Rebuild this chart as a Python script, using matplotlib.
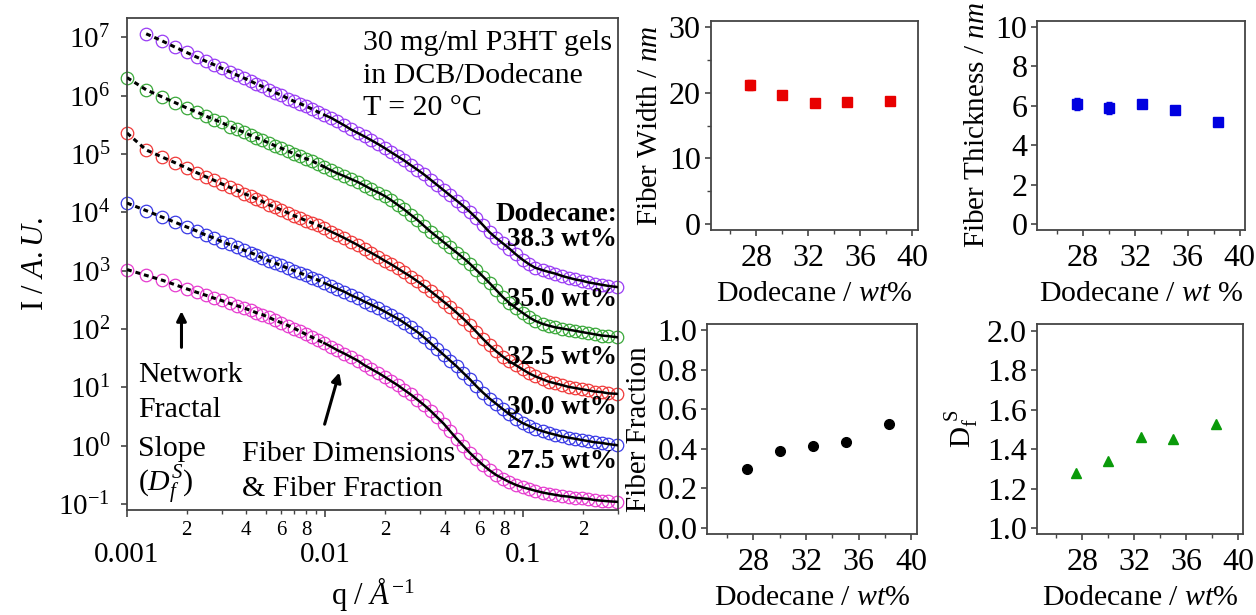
import numpy as np
import matplotlib
matplotlib.use("Agg")
import matplotlib.pyplot as plt
from matplotlib.ticker import FixedLocator, FuncFormatter, LogLocator, NullLocator, MultipleLocator

plt.rcParams['font.family'] = 'Liberation Serif'
plt.rcParams['mathtext.fontset'] = 'custom'
plt.rcParams['mathtext.rm'] = 'Liberation Serif'
plt.rcParams['mathtext.it'] = 'Liberation Serif:italic'
plt.rcParams['mathtext.bf'] = 'Liberation Serif:bold'

# ---- SANS curves (q in 1/A, intensity read as log10 I) ----
q = [0.00100, 0.00125, 0.00150, 0.00175, 0.00200, 0.00225, 0.00250, 0.00275, 0.00300, 0.00330,
     0.00360, 0.00390, 0.00420, 0.00450, 0.00480, 0.00520, 0.00560, 0.00600, 0.00650, 0.00700,
     0.00750, 0.00800, 0.00860, 0.00920, 0.00990, 0.0107, 0.0115, 0.0125, 0.0135, 0.0146,
     0.0158, 0.0170, 0.0185, 0.0200, 0.0215, 0.0232, 0.0250, 0.0270, 0.0292, 0.0315,
     0.0340, 0.0367, 0.0396, 0.0427, 0.0461, 0.0497, 0.0537, 0.0580, 0.0626, 0.0675,
     0.0729, 0.0787, 0.0849, 0.0917, 0.0990, 0.107, 0.115, 0.125, 0.134, 0.145,
     0.157, 0.169, 0.183, 0.197, 0.213, 0.230, 0.248, 0.268, 0.298]

logI_383 = [np.nan, 7.06, 6.94, 6.83, 6.74, 6.66, 6.59, 6.53, 6.47, 6.41, 6.35, 6.30, 6.25, 6.20,
            6.16, 6.10, 6.05, 6.01, 5.95, 5.90, 5.86, 5.82, 5.77, 5.72, 5.67,
            5.62, 5.56, 5.49, 5.42, 5.36, 5.30, 5.24, 5.17, 5.10, 5.03, 4.96, 4.89, 4.81, 4.73,
            4.65, 4.56, 4.47, 4.38, 4.29, 4.20, 4.11, 4.01, 3.90, 3.78, 3.66, 3.56, 3.47, 3.38,
            3.28, 3.19, 3.11, 3.05, 3.01, 2.98, 2.95, 2.91, 2.88, 2.85, 2.83, 2.80, 2.78, 2.76,
            2.74, 2.72]
logI_350 = [6.31, 6.10, 5.98, 5.88, 5.79, 5.72, 5.65, 5.59, 5.54, 5.47, 5.42, 5.37, 5.32, 5.28,
            5.24, 5.19, 5.14, 5.10, 5.05, 5.00, 4.96, 4.92, 4.88, 4.83, 4.78,
            4.72, 4.67, 4.62, 4.57, 4.52, 4.46, 4.40, 4.34, 4.28, 4.21, 4.13, 4.05, 3.96, 3.87,
            3.77, 3.67, 3.58, 3.49, 3.40, 3.31, 3.22, 3.12, 3.01, 2.90, 2.79, 2.67, 2.55, 2.45,
            2.36, 2.28, 2.20, 2.14, 2.09, 2.06, 2.03, 2.01, 1.99, 1.97, 1.95, 1.93, 1.91, 1.89,
            1.88, 1.86]
logI_325 = [5.36, 5.07, 4.95, 4.85, 4.76, 4.68, 4.61, 4.55, 4.49, 4.43, 4.38, 4.32, 4.28, 4.23,
            4.19, 4.13, 4.09, 4.04, 3.99, 3.94, 3.90, 3.86, 3.82, 3.78, 3.73,
            3.67, 3.62, 3.56, 3.50, 3.44, 3.37, 3.31, 3.24, 3.17, 3.11, 3.04, 2.97, 2.90, 2.82,
            2.74, 2.65, 2.56, 2.47, 2.38, 2.28, 2.18, 2.07, 1.95, 1.83, 1.72, 1.62, 1.53, 1.45,
            1.38, 1.31, 1.24, 1.19, 1.14, 1.10, 1.07, 1.04, 1.01, 0.99, 0.97, 0.95, 0.93, 0.92,
            0.90, 0.89]
logI_300 = [4.16, 4.03, 3.92, 3.83, 3.75, 3.68, 3.61, 3.56, 3.50, 3.45, 3.40, 3.35, 3.31, 3.27,
            3.22, 3.17, 3.13, 3.09, 3.04, 3.00, 2.96, 2.92, 2.88, 2.84, 2.79,
            2.74, 2.69, 2.64, 2.58, 2.53, 2.47, 2.42, 2.36, 2.30, 2.24, 2.18, 2.11, 2.03, 1.95,
            1.86, 1.76, 1.66, 1.56, 1.46, 1.36, 1.25, 1.14, 1.02, 0.91, 0.81, 0.72, 0.63, 0.54,
            0.46, 0.39, 0.34, 0.29, 0.25, 0.22, 0.19, 0.16, 0.14, 0.12, 0.10, 0.08, 0.06, 0.05,
            0.03, 0.01]
logI_275 = [3.02, 2.92, 2.84, 2.76, 2.69, 2.63, 2.58, 2.53, 2.49, 2.44, 2.40, 2.36, 2.32, 2.28,
            2.25, 2.20, 2.15, 2.11, 2.06, 2.01, 1.96, 1.91, 1.86, 1.81, 1.76,
            1.70, 1.64, 1.58, 1.52, 1.46, 1.38, 1.32, 1.25, 1.18, 1.11, 1.04, 0.96, 0.88, 0.79,
            0.70, 0.60, 0.49, 0.38, 0.25, 0.12, 0.00, -0.12, -0.23, -0.33, -0.42, -0.50, -0.56,
            -0.62, -0.67, -0.71, -0.74, -0.77, -0.80, -0.82, -0.84, -0.86, -0.87, -0.89, -0.90,
            -0.91, -0.93, -0.94, -0.95, -0.96]

series_labels = ['38.3 wt%', '35.0 wt%', '32.5 wt%', '30.0 wt%', '27.5 wt%']
series_colors = ['#9a3cf5', '#3aa83a', '#f03a3a', '#3a3ae6', '#e63ccf']
n_fractal = 25  # points covered by the dashed fractal fit

# ---- fit results vs dodecane content ----
dodecane = [27.5, 30.0, 32.5, 35.0, 38.3]
width = [21.2, 19.7, 18.5, 18.6, 18.7]
width_err = [0.8, 0.4, 0.3, 0.3, 0.4]
thickness = [6.1, 5.9, 6.1, 5.8, 5.2]
thickness_err = [0.3, 0.3, 0.15, 0.1, 0.1]
fraction = [0.30, 0.39, 0.415, 0.435, 0.525]
df_slope = [1.28, 1.34, 1.46, 1.45, 1.53]

fig = plt.figure(figsize=(12.56, 6.15), dpi=100)
spine_col = '#444444'

# ---------------- main SANS panel ----------------
ax = fig.add_axes([0.1011, 0.1707, 0.3909, 0.8])
qq = np.array(q)
for logI, col in zip([logI_383, logI_350, logI_325, logI_300, logI_275], series_colors):
    I = 10 ** np.array(logI)
    ax.plot(qq, I, 'o', mfc='none', mec=col, ms=9, mew=0.9, clip_on=False, zorder=2)
    ax.plot(qq[:n_fractal], I[:n_fractal], color='k', ls=(0, (1.6, 1.3)), lw=2.2, zorder=3)
    ax.plot(qq[n_fractal - 1:], I[n_fractal - 1:], color='k', lw=1.8, zorder=3)

ax.set_xscale('log')
ax.set_yscale('log')
ax.set_xlim(1e-3, 0.3)
ax.set_ylim(10 ** -1.1, 10 ** 7.33)
ax.yaxis.set_major_locator(FixedLocator([10.0 ** k for k in range(-1, 8)]))
ax.yaxis.set_major_formatter(FuncFormatter(lambda v, p: r'$10^{%d}$' % round(np.log10(v))))
ax.yaxis.set_minor_locator(NullLocator())
ax.xaxis.set_major_locator(FixedLocator([1e-3, 1e-2, 1e-1]))
ax.xaxis.set_major_formatter(FuncFormatter(lambda v, p: {-3: '0.001', -2: '0.01', -1: '0.1'}[round(np.log10(v))]))
ax.xaxis.set_minor_locator(LogLocator(base=10, subs=range(2, 10)))


def minor_lab(v, p):
    m = int(round(v / 10 ** np.floor(np.log10(v) + 1e-9)))
    return str(m) if m in (2, 4, 6, 8) else ''


ax.xaxis.set_minor_formatter(FuncFormatter(minor_lab))
ax.tick_params(axis='y', which='major', labelsize=21, length=4, width=1.2, color=spine_col, pad=8)
ax.tick_params(axis='x', which='major', labelsize=21, length=5, width=1.2, color=spine_col, pad=18)
ax.tick_params(axis='x', which='minor', labelsize=15, length=3, width=1.0, color=spine_col, pad=5)
for s in ax.spines.values():
    s.set_color(spine_col)
    s.set_linewidth(1.3)
ax.set_ylabel(r'I / $\mathit{A.U.}$', fontsize=22, labelpad=6)
ax.set_xlabel(r'q / $\mathit{Å}^{\mathit{-1}}$', fontsize=22, labelpad=5)

for line, yf in zip(['30 mg/ml P3HT gels', 'in DCB/Dodecane', 'T = 20 °C'], [0.949, 0.882, 0.817]):
    ax.text(0.481, yf, line, transform=ax.transAxes, ha='left', va='center', fontsize=21.5)
ax.text(0.998, 0.600, 'Dodecane:', transform=ax.transAxes, ha='right', va='center',
        fontsize=19.5, fontweight='bold', zorder=5)
for lab, yf in zip(series_labels, [0.549, 0.427, 0.311, 0.209, 0.098]):
    ax.text(0.998, yf, lab, transform=ax.transAxes, ha='right', va='center',
            fontsize=19.5, fontweight='bold', zorder=5)
for line, yf in zip(['Network', 'Fractal', 'Slope', r'($D_f^S$)'], [0.274, 0.203, 0.124, 0.051]):
    ax.text(0.022, yf, line, transform=ax.transAxes, ha='left', va='center', fontsize=21.5)
for line, yf in zip(['Fiber Dimensions', '& Fiber Fraction'], [0.114, 0.043]):
    ax.text(0.234, yf, line, transform=ax.transAxes, ha='left', va='center', fontsize=21.5)
ax.annotate('', xy=(0.111, 0.41), xytext=(0.111, 0.325), xycoords='axes fraction',
            arrowprops=dict(arrowstyle='-|>', color='k', lw=2.2, mutation_scale=14))
ax.annotate('', xy=(0.434, 0.285), xytext=(0.401, 0.169), xycoords='axes fraction',
            arrowprops=dict(arrowstyle='-|>', color='k', lw=2.2, mutation_scale=14))


# ---------------- small panels ----------------
def small_panel(rect, y, yerr, marker, color, ylim, ystep, ylabel, xlabel, fmt, yminor=None):
    a = fig.add_axes(rect)
    a.errorbar(dodecane, y, yerr=yerr, fmt=marker, color=color, ms=7, elinewidth=1,
               capsize=2, clip_on=False)
    a.set_xlim(24.5, 40.4)
    a.set_ylim(*ylim)
    a.xaxis.set_major_locator(FixedLocator([28, 32, 36, 40]))
    a.xaxis.set_minor_locator(FixedLocator([26, 30, 34, 38]))
    a.yaxis.set_major_locator(MultipleLocator(ystep))
    a.yaxis.set_major_formatter(FuncFormatter(lambda v, p: fmt % v))
    if yminor:
        a.yaxis.set_minor_locator(MultipleLocator(yminor))
    a.tick_params(which='major', labelsize=23, length=4, width=1.2, color=spine_col, pad=3)
    a.tick_params(axis='x', which='major', pad=6)
    a.tick_params(which='minor', length=3, width=1.0, color=spine_col)
    for s in a.spines.values():
        s.set_color(spine_col)
        s.set_linewidth(1.3)
    a.set_ylabel(ylabel, fontsize=21, labelpad=4)
    a.set_xlabel(xlabel, fontsize=21.5, labelpad=6)
    return a


small_panel([0.5658, 0.626, 0.1648, 0.3398], width, width_err, 's', '#e80000',
            (-0.9, 30.9), 10, r'Fiber Width / $\mathit{nm}$', r'Dodecane / $\mathit{wt\%}$', '%d', 5)
small_panel([0.8259, 0.626, 0.1654, 0.3398], thickness, thickness_err, 's', '#0000e0',
            (-0.3, 10.3), 2, r'Fiber Thickness / $\mathit{nm}$', r'Dodecane / $\mathit{wt}$ %', '%d')
small_panel([0.5631, 0.1317, 0.1668, 0.3415], fraction, None, 'o', 'k',
            (-0.03, 1.03), 0.2, 'Fiber Fraction', r'Dodecane / $\mathit{wt\%}$', '%.1f')
small_panel([0.8254, 0.1317, 0.1646, 0.3415], df_slope, None, '^', '#0a9a0a',
            (0.97, 2.035), 0.2, r'$\mathrm{D}_\mathrm{f}^{\ \mathrm{S}}$', r'Dodecane / $\mathit{wt\%}$', '%.1f')

fig.savefig('out.png', dpi=100)
